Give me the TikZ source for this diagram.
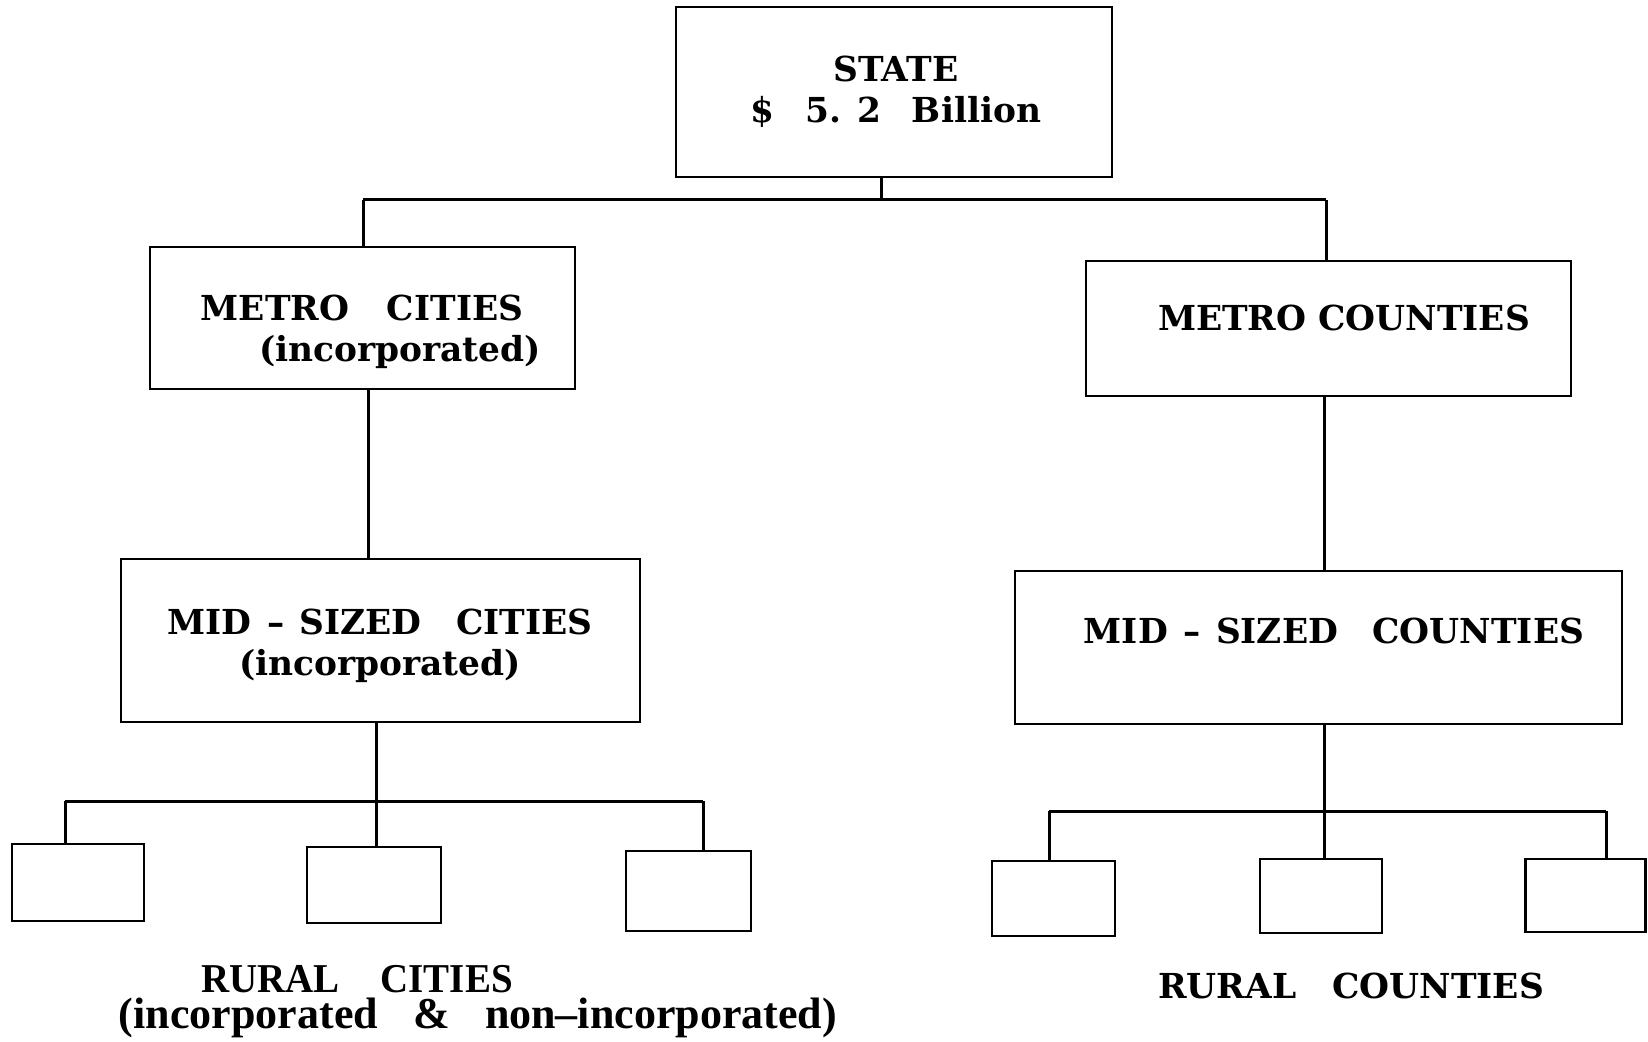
\documentclass[tikz,border=0pt]{standalone}
\usepackage{fontspec}
\setmainfont{DejaVu Serif}[UprightFont=* Bold]
\newfontfamily\condfontA[FakeStretch=0.95]{Liberation Serif Bold}
\newfontfamily\condfontB[FakeStretch=1.0]{Liberation Serif Bold}
\begin{document}
\begin{tikzpicture}[x=0.5pt,y=-0.5pt,
  box/.style={draw,line width=1.2pt,inner sep=0pt},
  conn/.style={line width=1.5pt},
  boxtext/.style={inner sep=0pt,align=center,font=\fontsize{17.2}{20.5}\selectfont},
  lowtext/.style={inner sep=0pt,align=center,anchor=north,font=\condfontB\fontsize{22}{18}\selectfont}]
\useasboundingbox (0,0) rectangle (1648,1042);
% boxes
\node[box,minimum width=218pt,minimum height=85pt] (state) at (894,92) {};
\node[box,minimum width=212.5pt,minimum height=71pt] (mcity) at (362.5,318) {};
\node[box,minimum width=242.5pt,minimum height=67.5pt] (mcounty) at (1328.5,328.5) {};
\node[box,minimum width=259.5pt,minimum height=81.5pt] (dcity) at (380.5,640.5) {};
\node[box,minimum width=303.5pt,minimum height=76.5pt] (dcounty) at (1318.5,647.5) {};
\node[box,minimum width=66pt,minimum height=38.5pt] (c1) at (78,882.5) {};
\node[box,minimum width=67pt,minimum height=38pt] (c2) at (374,885) {};
\node[box,minimum width=62.5pt,minimum height=40pt] (c3) at (688.5,891) {};
\node[box,minimum width=61.5pt,minimum height=37.5pt] (k1) at (1053.5,898.5) {};
\node[box,minimum width=61pt,minimum height=37pt] (k2) at (1321,896) {};
\node[box,minimum width=60pt,minimum height=36.5pt] (k3) at (1585.5,895.5) {};
% texts
\node[boxtext] (tstate) at (896,92) {STATE\\\$\hspace{0.9em}5.\hspace{0.45em}2\hspace{0.9em}Billion};
\node[boxtext] (tmcity) at (362,332) {METRO\hspace{1.1em}CITIES\\\hspace*{38pt}(incorporated)};
\node[boxtext] (tmcounty) at (1344,318) {METRO COUNTIES};
\node[boxtext] (tdcity) at (380,646) {MID\hspace{0.45em}–\hspace{0.45em}SIZED\hspace{1em}CITIES\\(incorporated)};
\node[boxtext] (tdcounty) at (1334,631) {MID\hspace{0.45em}–\hspace{0.45em}SIZED\hspace{1em}COUNTIES};
\node[lowtext] (trc) at (478,965) {{\condfontA\fontsize{20.5}{18}\selectfont RURAL\hspace{1em}CITIES\hspace*{121pt}}\\(incorporated\hspace{0.8em}\&\hspace{0.8em}non–incorporated)};
\node[boxtext] (trk) at (1351,986) {RURAL\hspace{1.05em}COUNTIES};
% connector coordinates
\coordinate (s0) at (881,200);
\coordinate (jL) at (363,200);
\coordinate (jR) at (1326,200);
\coordinate (vL) at (368,0);
\coordinate (vR) at (1324,0);
\coordinate (hc) at (376,801);
\coordinate (hcl) at (65,801);
\coordinate (hcr) at (703,801);
\coordinate (hk) at (1324,811);
\coordinate (hkl) at (1049,811);
\coordinate (hkr) at (1606,811);
% connectors
\draw[conn] (state.south -| s0) -- (s0);
\draw[conn] (jL) -- (jR);
\draw[conn] (jL) -- (jL |- mcity.north);
\draw[conn] (jR) -- (jR |- mcounty.north);
\draw[conn] (mcity.south -| vL) -- (dcity.north -| vL);
\draw[conn] (mcounty.south -| vR) -- (dcounty.north -| vR);
\draw[conn] (dcity.south -| hc) -- (c2.north -| hc);
\draw[conn] (hcl) -- (hcr);
\draw[conn] (hcl) -- (c1.north -| hcl);
\draw[conn] (hcr) -- (c3.north -| hcr);
\draw[conn] (dcounty.south -| hk) -- (k2.north -| hk);
\draw[conn] (hkl) -- (hkr);
\draw[conn] (hkl) -- (k1.north -| hkl);
\draw[conn] (hkr) -- (k3.north -| hkr);
\end{tikzpicture}
\end{document}
